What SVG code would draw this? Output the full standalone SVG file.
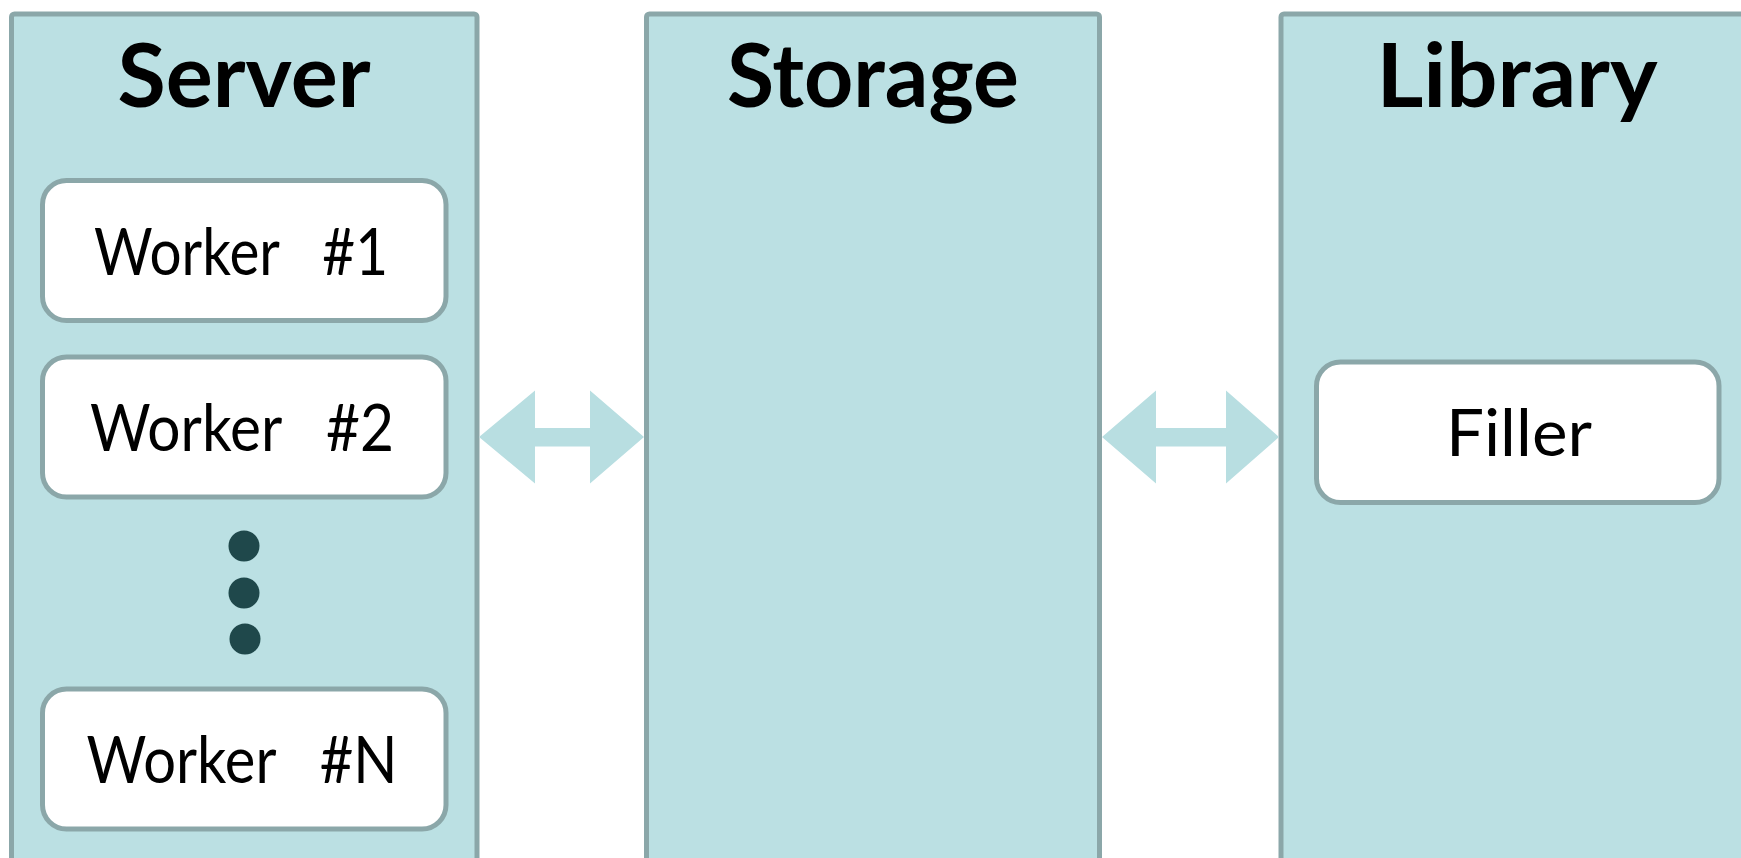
<svg xmlns="http://www.w3.org/2000/svg" width="1741" height="858" viewBox="0 0 1741 858">
<style>
.panel{fill:#BBE0E3;stroke:#8BA7A9;stroke-width:5}
.box{fill:#FFFFFF;stroke:#8BA7A9;stroke-width:5}
.title{font-family:Lato,"Open Sans","Liberation Sans",sans-serif;font-weight:bold;font-size:88px;fill:#000;text-anchor:middle}
.lbl{font-family:Lato,"Open Sans","Liberation Sans",sans-serif;font-size:66px;fill:#000;text-anchor:middle}
.arrow{fill:#B8DEE1}
.dot{fill:#1F484B}
</style>
<rect width="1741" height="858" fill="#FFFFFF"/>
<g id="server">
<rect class="panel" x="11.5" y="14" width="465.5" height="870" rx="3"/>
<text class="title" x="244" y="107" textLength="253" lengthAdjust="spacingAndGlyphs">Server</text>
</g>
<g id="worker1">
<rect class="box" x="42.5" y="180.5" width="403.5" height="140" rx="24"/>
<text class="lbl" x="241" y="275" xml:space="preserve" textLength="294" lengthAdjust="spacingAndGlyphs">Worker   #1</text>
</g>
<g id="worker2">
<rect class="box" x="42.5" y="357" width="403.5" height="140" rx="24"/>
<text class="lbl" x="242" y="451" xml:space="preserve" textLength="304" lengthAdjust="spacingAndGlyphs">Worker   #2</text>
</g>
<g id="ellipsis">
<circle class="dot" cx="244" cy="546" r="15.5"/>
<circle class="dot" cx="244" cy="593" r="15.5"/>
<circle class="dot" cx="245" cy="639" r="15.5"/>
</g>
<g id="workerN">
<rect class="box" x="42.5" y="689" width="403.5" height="140" rx="24"/>
<text class="lbl" x="242" y="783" xml:space="preserve" textLength="311" lengthAdjust="spacingAndGlyphs">Worker   #N</text>
</g>
<g id="storage">
<rect class="panel" x="646.5" y="14" width="453" height="870" rx="3"/>
<text class="title" x="873" y="107" textLength="292" lengthAdjust="spacingAndGlyphs">Storage</text>
</g>
<g id="library">
<rect class="panel" x="1281" y="14" width="480" height="870" rx="3"/>
<text class="title" x="1517" y="107" textLength="281" lengthAdjust="spacingAndGlyphs">Library</text>
</g>
<g id="filler">
<rect class="box" x="1316.5" y="362" width="402.5" height="140.5" rx="24"/>
<text class="lbl" x="1519" y="456" textLength="146" lengthAdjust="spacingAndGlyphs">Filler</text>
</g>
<g id="connectors">
<polygon class="arrow" points="479,437 535,390.5 535,428 590,428 590,390.5 644,437 590,483.5 590,446.5 535,446.5 535,483.5"/>
<polygon class="arrow" points="1102,437 1156,390.5 1156,428 1226,428 1226,390.5 1279,437 1226,483.5 1226,446.5 1156,446.5 1156,483.5"/>
</g>
</svg>
